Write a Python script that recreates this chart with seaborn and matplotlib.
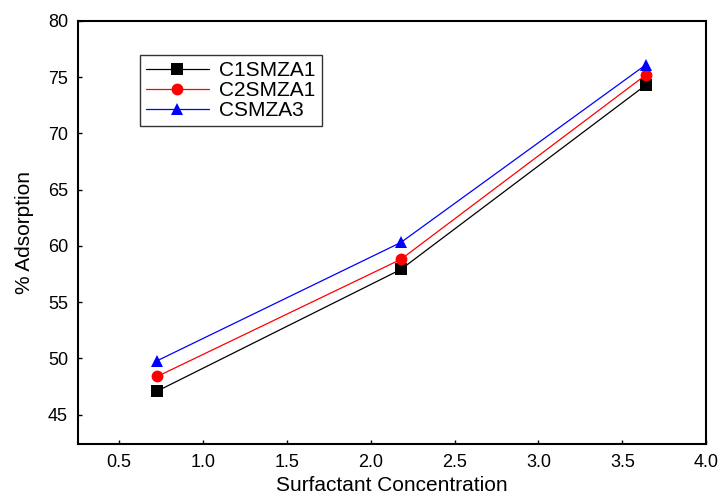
import matplotlib
matplotlib.use("Agg")
import matplotlib.pyplot as plt
import seaborn as sns
import pandas as pd

x_conc = [0.73, 2.18, 3.64]
c1smza1 = [47.1, 57.9, 74.3]
c2smza1 = [48.4, 58.8, 75.2]
csmza3 = [49.8, 60.3, 76.1]
series_names = ["C1SMZA1", "C2SMZA1", "CSMZA3"]
colors = ["black", "red", "blue"]
markers = ["s", "o", "^"]

rows = []
for name, vals in zip(series_names, [c1smza1, c2smza1, csmza3]):
    for xv, yv in zip(x_conc, vals):
        rows.append({"conc": xv, "ads": yv, "series": name})
df = pd.DataFrame(rows)

sns.set_style("ticks")
plt.rcParams['font.family'] = ['Liberation Sans', 'DejaVu Sans']
plt.rcParams['text.color'] = 'black'
plt.rcParams['axes.labelcolor'] = 'black'
plt.rcParams['xtick.color'] = 'black'
plt.rcParams['ytick.color'] = 'black'

fig = plt.figure(figsize=(7.2, 4.97), dpi=100)
ax = fig.add_axes([0.108, 0.107, 0.873, 0.851])

sns.lineplot(data=df, x="conc", y="ads", hue="series", style="series",
             palette=dict(zip(series_names, colors)),
             markers=dict(zip(series_names, markers)), dashes=False,
             markersize=8.5, linewidth=0.9, markeredgewidth=0, ax=ax)

ax.set_xlim(0.255, 4.0)
ax.set_ylim(42.4, 80)
ax.set_xticks([0.5, 1.0, 1.5, 2.0, 2.5, 3.0, 3.5, 4.0])
ax.set_yticks([45, 50, 55, 60, 65, 70, 75, 80])
ax.tick_params(direction="in", length=3, labelsize=13, width=1, pad=7)
for s in ax.spines.values():
    s.set_linewidth(1.5)
    s.set_color("black")
ax.set_xlabel("Surfactant Concentration", fontsize=15, labelpad=4)
ax.set_ylabel("% Adsorption", fontsize=15, labelpad=10)

leg = ax.legend(loc="upper left", bbox_to_anchor=(0.099, 0.92), fontsize=15,
                frameon=True, fancybox=False, edgecolor="black",
                handlelength=3.0, handletextpad=0.5, borderpad=0.3,
                labelspacing=0.05, borderaxespad=0)
leg.get_frame().set_linewidth(1.0)

fig.savefig("out.png", dpi=100)
